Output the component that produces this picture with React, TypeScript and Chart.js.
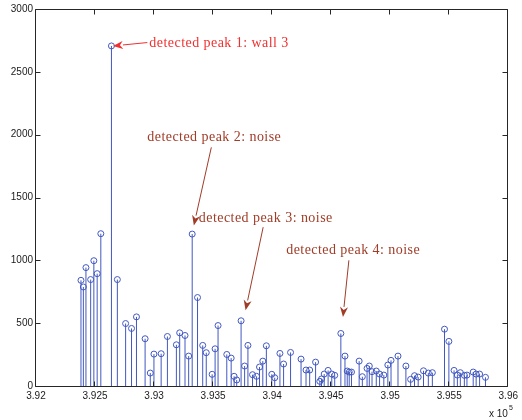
import React, { useEffect, useRef } from 'react';
import { Chart, registerables } from 'chart.js';

Chart.register(...registerables);

// Peak positions (x) and magnitudes (y)
const peakX = [
  392381, 392401, 392423, 392463, 392490, 392518, 392549, 392639, 392689, 392759,
  392809, 392851, 392924, 392968, 392999, 393060, 393113, 393189, 393217, 393262,
  393293, 393323, 393368, 393412, 393442, 393492, 393517, 393542, 393616, 393653,
  393678, 393700, 393737, 393767, 393795, 393834, 393868, 393893, 393921, 393951,
  393997, 394022, 394066, 394097, 394156, 394245, 394287, 394318, 394368, 394404,
  394418, 394441, 394474, 394505, 394530, 394582, 394617, 394636, 394653, 394672,
  394737, 394764, 394804, 394823, 394846, 394882, 394910, 394946, 394980, 395007,
  395066, 395133, 395173, 395206, 395237, 395282, 395323, 395357, 395460, 395497,
  395541, 395569, 395594, 395628, 395650, 395703, 395728, 395757, 395807,
];
const peakY = [
  841, 788, 942, 847, 997, 894, 1212, 2706, 847, 497,
  458, 550, 376, 103, 254, 257, 394, 328, 423, 402,
  238, 1209, 704, 323, 265, 93, 296, 481, 251, 222,
  77, 48, 519, 159, 323, 90, 77, 151, 198, 320,
  93, 66, 259, 175, 267, 214, 127, 127, 190, 37,
  56, 95, 124, 95, 85, 418, 238, 119, 111, 111,
  198, 74, 140, 159, 114, 119, 95, 87, 167, 204,
  238, 159, 53, 82, 71, 121, 103, 106, 452, 355,
  124, 87, 106, 85, 87, 111, 95, 95, 69,
];

const xTickValues = [392000, 392500, 393000, 393500, 394000, 394500, 395000, 395500, 396000];
const yTickValues = [0, 500, 1000, 1500, 2000, 2500, 3000];

// Annotations (data coordinates)
const annTexts = [
  'detected peak 1: wall 3',
  'detected peak 2: noise',
  'detected peak 3: noise',
  'detected peak 4: noise',
];
const annColors = ['#f03030', '#a03c28', '#a03c28', '#a03c28'];
const annTextX = [392960, 392943, 393379, 394119];
const annTextY = [2725, 1976, 1333, 1079];
const annTailX = [392943, 393485, 393924, 394650];
const annTailY = [2733, 1899, 1264, 1000];
const annTipX = [392652, 393337, 393775, 394600];
const annTipY = [2706, 1278, 603, 550];

const STEM_COLOR = '#4258c0';

const framePlugin = {
  id: 'frameAndAnnotations',
  afterDraw(chart: any) {
    const { ctx, chartArea } = chart;
    const xs = chart.scales.x;
    const ys = chart.scales.y;
    const l = Math.round(chartArea.left) - 0.5;
    const r = Math.round(chartArea.right) - 0.5;
    const t = Math.round(chartArea.top) + 0.5;
    const b = Math.round(chartArea.bottom) + 0.5;
    ctx.save();
    ctx.strokeStyle = '#262626';
    ctx.lineWidth = 1;
    ctx.beginPath();
    ctx.rect(l, t, r - l, b - t);
    ctx.stroke();
    const tl = 5;
    ctx.beginPath();
    xTickValues.forEach((v) => {
      const px = Math.round(xs.getPixelForValue(v)) - 0.5;
      ctx.moveTo(px, b);
      ctx.lineTo(px, b - tl);
      ctx.moveTo(px, t);
      ctx.lineTo(px, t + tl);
    });
    yTickValues.forEach((v) => {
      const py = Math.round(ys.getPixelForValue(v)) + 0.5;
      ctx.moveTo(l, py);
      ctx.lineTo(l + tl, py);
      ctx.moveTo(r, py);
      ctx.lineTo(r - tl, py);
    });
    ctx.stroke();

    // exponent label
    ctx.fillStyle = '#1a1a1a';
    ctx.font = '10px "Liberation Sans", Arial, sans-serif';
    ctx.textAlign = 'left';
    ctx.textBaseline = 'middle';
    ctx.fillText('x 10', 489, 414);
    ctx.font = '7px "Liberation Sans", Arial, sans-serif';
    ctx.fillText('5', 509, 408);

    // annotations
    for (let i = 0; i < annTexts.length; i++) {
      const color = annColors[i];
      ctx.fillStyle = color;
      ctx.strokeStyle = color;
      ctx.font = '14px "Liberation Serif", "Times New Roman", serif';
      (ctx as any).letterSpacing = '0.45px';
      ctx.textAlign = 'left';
      ctx.textBaseline = 'middle';
      ctx.fillText(annTexts[i], xs.getPixelForValue(annTextX[i]), ys.getPixelForValue(annTextY[i]));
      (ctx as any).letterSpacing = '0px';
      const x1 = xs.getPixelForValue(annTailX[i]);
      const y1 = ys.getPixelForValue(annTailY[i]);
      const x2 = xs.getPixelForValue(annTipX[i]);
      const y2 = ys.getPixelForValue(annTipY[i]);
      const ang = Math.atan2(y2 - y1, x2 - x1);
      const hl = 10;
      const hw = 4;
      const bx = x2 - hl * Math.cos(ang);
      const by = y2 - hl * Math.sin(ang);
      ctx.lineWidth = 1;
      ctx.beginPath();
      ctx.moveTo(x1, y1);
      ctx.lineTo(bx, by);
      ctx.stroke();
      ctx.beginPath();
      ctx.moveTo(x2, y2);
      ctx.lineTo(bx + hw * Math.sin(ang), by - hw * Math.cos(ang));
      ctx.lineTo(x2 - (hl * 0.7) * Math.cos(ang), y2 - (hl * 0.7) * Math.sin(ang));
      ctx.lineTo(bx - hw * Math.sin(ang), by + hw * Math.cos(ang));
      ctx.closePath();
      ctx.fill();
    }
    ctx.restore();
  },
};

export default function App() {
  const canvasRef = useRef<HTMLCanvasElement | null>(null);

  useEffect(() => {
    const canvas = canvasRef.current;
    if (!canvas) return;
    const stemData: any[] = [];
    peakX.forEach((x, i) => {
      stemData.push({ x, y: 0 });
      stemData.push({ x, y: peakY[i] });
      stemData.push({ x, y: null });
    });
    const pointData = peakX.map((x, i) => ({ x, y: peakY[i] }));

    const chart = new Chart(canvas, {
      type: 'scatter',
      data: {
        datasets: [
          {
            type: 'line',
            data: stemData,
            borderColor: STEM_COLOR,
            borderWidth: 1,
            pointRadius: 0,
            spanGaps: false,
            fill: false,
            clip: false as any,
          } as any,
          {
            type: 'scatter',
            data: pointData,
            borderColor: STEM_COLOR,
            backgroundColor: 'rgba(0,0,0,0)',
            pointRadius: 3,
            pointBorderWidth: 1,
            clip: false as any,
          } as any,
        ],
      },
      options: {
        animation: false,
        responsive: true,
        maintainAspectRatio: false,
        events: [],
        layout: { padding: { top: 8, right: 9, left: 0, bottom: 0 } },
        plugins: {
          legend: { display: false },
          tooltip: { enabled: false },
        },
        scales: {
          x: {
            type: 'linear',
            min: 392000,
            max: 396000,
            afterFit: (s: any) => { s.height = 34; },
            afterBuildTicks: (s: any) => { s.ticks = xTickValues.map((v) => ({ value: v })); },
            grid: { display: false, drawTicks: false },
            border: { display: false },
            ticks: {
              autoSkip: false,
              maxRotation: 0,
              padding: 4,
              color: '#1a1a1a',
              font: { family: '"Liberation Sans", Arial, sans-serif', size: 10 },
              callback: (v: any) => String(Number(v) / 1e5),
            },
          },
          y: {
            type: 'linear',
            min: 0,
            max: 3000,
            afterFit: (s: any) => { s.width = 36; },
            afterBuildTicks: (s: any) => { s.ticks = yTickValues.map((v) => ({ value: v })); },
            grid: { display: false, drawTicks: false },
            border: { display: false },
            ticks: {
              autoSkip: false,
              padding: 3,
              color: '#1a1a1a',
              font: { family: '"Liberation Sans", Arial, sans-serif', size: 10 },
              callback: (v: any) => String(v),
            },
          },
        },
      },
      plugins: [framePlugin],
    });
    return () => chart.destroy();
  }, []);

  return (
    <div style={{ position: 'absolute', left: 0, top: 0, width: 522, height: 420, background: '#fff' }}>
      <canvas ref={canvasRef} />
    </div>
  );
}
